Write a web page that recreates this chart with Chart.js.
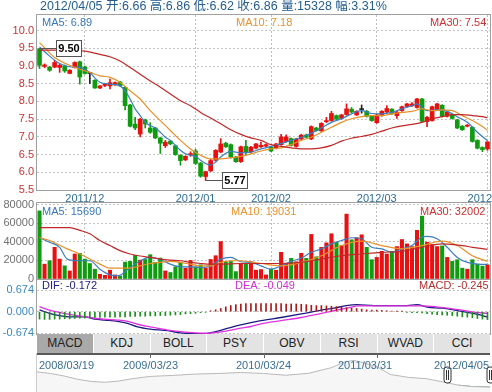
<!DOCTYPE html>
<html>
<head>
<meta charset="utf-8">
<script src="https://cdn.jsdelivr.net/npm/chart.js@4.4.1/dist/chart.umd.min.js"></script>
<style>
  html, body { margin: 0; padding: 0; background: #fff; }
  #wrap { position: relative; width: 492px; height: 392px; overflow: hidden;
    font-family: "Liberation Sans", Arial, "Noto Sans CJK SC", sans-serif; }
  canvas { position: absolute; left: 0; }
  .txt { position: absolute; white-space: nowrap; font-size: 11px; line-height: 12px; }
  #title { left: 40px; top: -1px; font-size: 12.5px; line-height: 14px; color: #245e8e; }
  .tabs { position: absolute; left: 37px; top: 334px; width: 453px; height: 19px; display: flex; }
  .tab { flex: 1; background: #e3e3e3; border-left: 1px solid #fff; text-align: center;
    font-size: 12px; line-height: 19px; color: #222; }
  .tab.on { background: #a9a9a9; border-left: none; }
  .navd { position: absolute; top: 359px; font-size: 11px; line-height: 12px; color: #3a7090; white-space: nowrap; }
</style>
</head>
<body>
<div id="wrap">
  <canvas id="price" width="492" height="204" style="top:0"></canvas>
  <canvas id="vol" width="492" height="92" style="top:195px"></canvas>
  <canvas id="macd" width="492" height="70" style="top:272px"></canvas>
  <canvas id="nav" width="492" height="39" style="top:353px"></canvas>

  <div id="title" class="txt">2012/04/05 开:6.66 高:6.86 低:6.62 收:6.86 量:15328 幅:3.31%</div>

  <div class="txt" style="left:42px;top:15.5px;color:#3878b8">MA5: 6.89</div>
  <div class="txt" style="left:236px;top:15.5px;color:#e6922e">MA10: 7.18</div>
  <div class="txt" style="left:430px;top:15.5px;color:#cc3030">MA30: 7.54</div>

  <div class="txt" style="left:42px;top:204.5px;color:#3878b8">MA5: 15690</div>
  <div class="txt" style="left:231px;top:204.5px;color:#e6922e">MA10: 19031</div>
  <div class="txt" style="left:420px;top:204.5px;color:#cc3030">MA30: 32002</div>

  <div class="txt" style="left:42px;top:278.5px;color:#202080">DIF: -0.172</div>
  <div class="txt" style="left:235px;top:278.5px;color:#d030d0">DEA: -0.049</div>
  <div class="txt" style="left:419px;top:278.5px;color:#b03030">MACD: -0.245</div>

  <div class="tabs">
    <div class="tab on">MACD</div><div class="tab">KDJ</div><div class="tab">BOLL</div><div class="tab">PSY</div>
    <div class="tab">OBV</div><div class="tab">RSI</div><div class="tab">WVAD</div><div class="tab">CCI</div>
  </div>

  <div class="navd" style="left:39px">2008/03/19</div>
  <div class="navd" style="left:123px">2009/03/23</div>
  <div class="navd" style="left:236px">2010/03/24</div>
  <div class="navd" style="left:338px">2011/03/31</div>
  <div class="navd" style="left:434px">2012/04/05</div>
</div>

<script>
// daily candles, 2011/11 .. 2012/04/05
const opens = [9.48,8.99,8.97,8.97,8.96,9.00,8.79,8.96,9.12,8.97,
  8.80,8.60,8.38,8.45,8.44,8.47,8.55,8.40,7.90,7.36,
  7.08,7.48,7.25,7.25,6.97,6.75,6.88,6.75,6.48,6.35,
  6.50,6.60,6.26,5.88,6.04,6.34,6.57,6.82,6.78,6.43,
  6.30,6.73,6.58,6.68,6.72,6.74,6.71,6.68,6.78,6.87,
  6.95,6.73,6.94,7.05,6.94,7.25,7.17,7.43,7.46,7.60,
  7.52,7.63,7.78,7.62,7.77,7.72,7.58,7.40,7.60,7.70,
  7.78,7.60,7.74,7.86,7.88,7.83,8.07,7.43,7.46,7.77,
  7.89,7.58,7.63,7.48,7.30,7.30,7.27,6.90,6.70,6.66];
const highs = [9.50,9.06,8.99,9.16,9.05,9.03,8.90,9.12,9.14,9.00,
  8.82,8.61,8.45,8.50,8.63,8.55,8.57,8.42,7.92,7.55,
  7.52,7.50,7.40,7.27,6.99,6.90,6.90,6.77,6.50,6.47,
  6.58,6.65,6.28,6.03,6.37,6.64,6.95,6.85,6.80,6.45,
  6.74,6.90,6.73,6.82,6.85,6.80,6.73,6.82,7.07,7.06,
  6.97,6.96,7.07,7.08,7.31,7.27,7.40,7.55,7.72,7.62,
  7.64,7.93,7.83,7.74,7.90,7.75,7.60,7.64,7.74,7.88,
  7.80,7.72,7.87,7.95,7.97,8.09,8.09,7.58,7.87,7.95,
  7.91,7.72,7.65,7.50,7.32,7.35,7.29,6.92,6.72,6.86];
const lows = [8.93,8.95,8.85,8.95,8.82,8.82,8.78,8.94,8.49,8.77,
  8.50,8.37,8.36,8.42,8.35,8.45,8.43,7.76,7.28,7.20,
  7.00,7.25,7.10,6.95,6.53,6.70,6.78,6.48,6.20,6.33,
  6.45,6.22,5.86,5.77,6.02,6.32,6.55,6.70,6.40,6.28,
  6.28,6.50,6.55,6.66,6.70,6.72,6.58,6.66,6.76,6.85,
  6.74,6.71,6.92,6.97,6.92,7.16,7.15,7.40,7.44,7.48,
  7.50,7.61,7.68,7.60,7.67,7.56,7.44,7.38,7.58,7.68,
  7.63,7.52,7.72,7.84,7.86,7.81,7.42,7.29,7.44,7.75,
  7.56,7.56,7.50,7.23,7.18,7.28,6.85,6.66,6.58,6.62];
const closes = [9.02,9.03,8.88,9.10,9.02,8.86,8.88,9.10,8.69,8.79,
  8.79,8.38,8.44,8.49,8.53,8.53,8.44,7.88,7.30,7.25,
  7.50,7.36,7.13,6.97,6.82,6.85,6.80,6.50,6.33,6.45,
  6.52,6.25,5.89,6.02,6.33,6.62,6.80,6.72,6.43,6.30,
  6.72,6.58,6.71,6.80,6.76,6.78,6.60,6.80,7.00,7.00,
  6.76,6.94,7.05,6.99,7.29,7.18,7.38,7.46,7.66,7.50,
  7.62,7.79,7.70,7.72,7.77,7.58,7.46,7.62,7.72,7.80,
  7.65,7.70,7.85,7.93,7.93,8.07,7.44,7.55,7.85,7.93,
  7.58,7.70,7.52,7.25,7.20,7.33,6.87,6.68,6.64,6.86];
const volumes = [73500,16000,19700,34200,21500,14200,8700,27000,27700,21500,
  16700,10600,5100,4000,9500,4400,3300,18200,19000,25500,
  20400,21100,26200,17900,22600,8700,7000,13100,17900,11700,
  20000,13100,15300,11700,21100,25100,40400,18600,19000,8000,
  16700,16700,18600,9500,10200,4400,10600,9500,28800,16700,
  22300,18600,27700,22300,48100,24000,34200,39000,48800,39700,
  36100,70000,42300,44500,47700,34200,20800,23300,29900,27000,
  29900,35000,42600,37900,35000,52500,67800,39700,37200,35000,
  35700,23300,19000,20800,11700,10600,20800,16000,13900,15328];

// moving averages: [candle index, value]
const ma5 = [[0,9.54],[2,9.28],[4,9.07],[6,8.98],[8,8.96],[9,8.91],[10,8.82],[11,8.66],[12,8.54],[14,8.49],
  [16,8.44],[17,8.30],[18,8.07],[19,7.79],[20,7.60],[21,7.41],[22,7.32],[23,7.25],[24,7.13],[25,6.99],
  [26,6.90],[27,6.76],[28,6.62],[29,6.52],[30,6.48],[31,6.45],[32,6.34],[33,6.25],[34,6.20],[35,6.29],
  [36,6.43],[37,6.54],[38,6.59],[40,6.55],[42,6.57],[44,6.66],[46,6.73],[50,6.90],[53,7.04],[56,7.25],
  [58,7.41],[60,7.51],[62,7.65],[64,7.74],[66,7.66],[68,7.65],[70,7.69],[72,7.79],[74,7.88],[75,7.93],
  [77,7.74],[79,7.76],[81,7.72],[83,7.57],[85,7.41],[87,7.13],[89,6.89]];
const ma10 = [[0,9.66],[3,9.24],[5.5,9.05],[8,8.91],[10,8.82],[12,8.72],[14,8.68],[16,8.54],[18,8.30],[20,8.07],
  [22,7.74],[24,7.46],[26,7.18],[28,6.90],[30,6.66],[32,6.48],[34,6.38],[36,6.38],[38,6.41],[40,6.45],
  [42,6.52],[44,6.60],[46,6.66],[48,6.69],[50,6.78],[52,6.90],[54,6.99],[56,7.13],[58,7.27],[60,7.41],
  [62,7.51],[64,7.57],[66,7.60],[68,7.60],[70,7.65],[72,7.69],[74,7.72],[76,7.79],[78,7.74],[80,7.76],
  [82,7.74],[84,7.60],[86,7.46],[88,7.29],[89,7.18]];
const ma30 = [[0,9.45],[4,9.45],[8.5,9.43],[12,9.33],[14,9.26],[16,9.14],[18,8.96],[20,8.77],[22,8.58],[24,8.40],
  [26,8.21],[28,8.02],[30,7.88],[32,7.69],[34,7.53],[36,7.37],[38,7.20],[40,7.07],[42,6.97],[44,6.90],
  [46,6.78],[48,6.73],[50,6.69],[52,6.66],[54,6.66],[56,6.69],[58,6.76],[60,6.88],[62,6.96],[64,7.01],
  [66,7.07],[68,7.16],[70,7.25],[72,7.31],[74,7.35],[76,7.41],[78,7.51],[80,7.57],[82,7.63],[84,7.63],
  [86,7.60],[88,7.57],[89,7.54]];
const vma5 = [[0,44500],[2,39700],[4,34200],[5.5,21500],[8,19700],[10,19700],[12,10600],[14,4400],[15.5,3300],[18,12400],
  [20,19700],[22,23300],[24,21100],[26,16000],[28,13100],[30,13100],[32,12400],[34,14200],[36,21500],[38,23300],
  [40,18600],[42,17900],[44,14200],[46,10600],[48,14200],[50,19000],[52,22600],[54,28800],[56,32500],[58,37900],
  [60,41500],[62,44500],[64,43400],[66,34200],[68,32500],[70,28800],[72,32500],[74,36100],[76,45300],[77,46000],
  [79,43400],[81,34200],[83,23300],[85,17900],[87,16000],[89,15690]];
const vma10 = [[0,44500],[2,41500],[5.5,32500],[8,27000],[10,21500],[12,16000],[14,11700],[16,11700],[18,11700],[20,14200],
  [22,16700],[24,17900],[26,19000],[28,17900],[30,16000],[32,14200],[34,14200],[36,17900],[38,19700],[40,19700],
  [44,16700],[48,14200],[52,17900],[56,25100],[60,36100],[64,40800],[68,36100],[72,32500],[76,36100],[80,40800],
  [83,36100],[86,25100],[89,19031]];
const vma30 = [[0,55400],[6,55400],[8,52500],[10,48800],[12,41500],[14,36100],[16,30600],[18,27000],[20,24800],[22,23300],
  [24,21500],[26,20400],[28,19700],[30,17900],[32,16700],[34,16000],[36,16000],[40,16700],[44,16700],[48,16700],
  [52,17900],[56,21500],[60,25100],[64,27000],[68,28800],[72,29900],[76,34200],[80,37900],[84,36100],[86,34200],
  [89,32002]];
const dif = [[0,0.06],[2,-0.05],[4,-0.12],[6,-0.16],[9,-0.16],[11,-0.23],[13,-0.26],[15.5,-0.30],[17.5,-0.36],[19.5,-0.47],
  [22,-0.54],[25.5,-0.59],[28,-0.66],[31,-0.68],[33,-0.68],[35,-0.62],[37.5,-0.51],[40,-0.41],[44,-0.28],[48,-0.18],
  [52,-0.07],[56,0.05],[58.5,0.11],[61,0.19],[63,0.22],[66.5,0.19],[70,0.19],[73,0.19],[75,0.22],[77,0.14],
  [80,0.11],[82.5,0.05],[85,-0.02],[88,-0.12],[89,-0.172]];
const dea = [[0,0.16],[2,0.05],[4.8,-0.05],[7.5,-0.12],[10,-0.18],[12.8,-0.23],[15.5,-0.26],[17.5,-0.30],[19.5,-0.39],[22,-0.47],
  [25.5,-0.57],[28,-0.62],[31,-0.66],[33,-0.67],[35,-0.65],[37.5,-0.59],[40,-0.51],[42,-0.46],[44,-0.38],[48,-0.28],
  [52,-0.18],[56,-0.05],[58.5,0.03],[61,0.11],[63.5,0.18],[66.5,0.18],[70,0.18],[73,0.18],[76,0.18],[78.5,0.16],
  [81,0.11],[84,0.05],[86.5,-0.02],[89,-0.049]];
const macdHist = [-0.23,-0.24,-0.24,-0.23,-0.23,-0.22,-0.22,-0.21,-0.2,-0.2,
  -0.19,-0.18,-0.18,-0.17,-0.17,-0.17,-0.16,-0.16,-0.15,-0.15,
  -0.14,-0.14,-0.13,-0.13,-0.12,-0.12,-0.11,-0.1,-0.09,-0.07,
  -0.06,-0.05,-0.03,-0.02,0.03,0.06,0.10,0.15,0.19,0.22,
  0.24,0.25,0.25,0.25,0.25,0.25,0.25,0.25,0.25,0.24,
  0.24,0.24,0.23,0.22,0.2,0.19,0.19,0.18,0.17,0.16,
  0.14,0.12,0.11,0.1,0.08,0.06,0.05,0.05,0.04,0.03,
  0.02,0.01,0.01,-0.02,-0.03,-0.03,-0.04,-0.06,-0.08,-0.09,
  -0.1,-0.11,-0.12,-0.14,-0.16,-0.17,-0.19,-0.21,-0.23,-0.245];

// axis ticks
const monthIndex = [9, 31, 46, 67, 89];
const monthLabels = ['2011/12', '2012/01', '2012/02', '2012/03', '2012/04'];
const priceTicks = [5.5, 6.0, 6.5, 7.0, 7.5, 8.0, 8.5, 9.0, 9.5, 10.0];
const volTicks = [0, 20000, 40000, 60000, 80000];
const macdTicks = [-0.674, 0, 0.674];

// overview strip (2008/03 .. 2012/04), position 0..100 and price
const navHistory = [[0,10.3],[3,9.5],[6,8.2],[9,6.5],[12,5.4],[15,5.0],[18,5.6],[21,6.8],[25,8.0],[30,8.5],
  [35,9.2],[40,9.5],[45,10.0],[50,9.5],[55,8.6],[60,9.6],[65,12.5],[68,15.5],[70,16.2],[72,15.0],
  [75,13.0],[78,9.0],[82,7.5],[86,6.8],[90,5.0],[93,3.5],[96,2.8],[100,2.5]];
const navTicks = [25, 50, 75];
const navSelect = [90.5, 100];

const N = opens.length;
const RED = '#e81010', GREEN = '#109c10';
const candleColor = opens.map((o, i) => Math.abs(closes[i] - o) < 0.015 ? '#222' : (closes[i] > o ? RED : GREEN));
const volColor = opens.map((o, i) => closes[i] >= o ? RED : GREEN);
const pts = arr => arr.map(p => ({ x: p[0], y: p[1] }));

// outline of each panel
const frame = {
  id: 'frame',
  afterDraw(chart) {
    const a = chart.chartArea, ctx = chart.ctx;
    ctx.save();
    ctx.strokeStyle = '#a0a0a0';
    ctx.lineWidth = 1;
    ctx.strokeRect(a.left - 0.5, a.top - 0.5, a.width + 1, a.height + 1);
    ctx.restore();
  }
};

// boxes for highest / lowest price
const extremes = {
  id: 'extremes',
  afterDatasetsDraw(chart) {
    const x = chart.scales.x, y = chart.scales.y, ctx = chart.ctx;
    const hi = highs.indexOf(Math.max(...highs));
    const lo = lows.indexOf(Math.min(...lows));
    ctx.save();
    [[hi, highs[hi]], [lo, lows[lo]]].forEach(([i, v]) => {
      const px = x.getPixelForValue(i), py = Math.round(y.getPixelForValue(v)) + 0.5;
      const bx = Math.round(px + 16) + 0.5;
      ctx.strokeStyle = '#555';
      ctx.lineWidth = 1;
      ctx.beginPath(); ctx.moveTo(px, py); ctx.lineTo(bx, py); ctx.stroke();
      ctx.fillStyle = '#fff';
      ctx.fillRect(bx, py - 8, 25, 16);
      ctx.strokeRect(bx, py - 8, 25, 16);
      ctx.fillStyle = '#000';
      ctx.font = 'bold 11px "Liberation Sans", Arial';
      ctx.textAlign = 'center'; ctx.textBaseline = 'middle';
      ctx.fillText(v.toFixed(2), bx + 12.5, py + 0.5);
    });
    ctx.restore();
  }
};

function xAxis(labels) {
  return {
    type: 'linear', min: -0.5, max: N - 0.5, offset: false,
    afterBuildTicks: s => { s.ticks = monthIndex.map(v => ({ value: v })); },
    afterFit: s => { s.height = labels ? 14 : 0; s.paddingLeft = 0; s.paddingRight = 0; },
    grid: { color: '#bdbdbd', drawTicks: false, offset: false },
    border: { display: false, dash: [2, 2] },
    ticks: { display: labels, padding: 2, color: '#2f6f95', font: { size: 11 }, maxRotation: 0, autoSkip: false,
      callback: v => monthLabels[monthIndex.indexOf(v)] }
  };
}
function yAxis(min, max, ticks, color, fmt, grid) {
  return {
    min, max,
    afterBuildTicks: s => { s.ticks = ticks.map(v => ({ value: v })); },
    afterFit: s => { s.width = 37; s.paddingTop = 0; s.paddingBottom = 0; },
    grid: { color: grid ? '#c4c4c4' : 'transparent', drawTicks: false },
    border: { display: false, dash: [2, 2] },
    ticks: { padding: 3, color, font: { size: 11 }, callback: fmt }
  };
}
const line = (data, color, w) => ({ type: 'line', data: pts(data), borderColor: color, borderWidth: w || 1.2,
  pointRadius: 0, tension: 0.3, cubicInterpolationMode: 'monotone', fill: false });
const common = { responsive: false, animation: false, devicePixelRatio: 1, events: [],
  plugins: { legend: { display: false }, tooltip: { enabled: false } } };
Chart.defaults.font.family = '"Liberation Sans", Arial, sans-serif';

new Chart(document.getElementById('price'), {
  type: 'bar',
  data: { datasets: [
    line(ma30, '#c02828'), line(ma10, '#e8902a'), line(ma5, '#3a7ec0'),
    { data: opens.map((o, i) => ({ x: i, y: [lows[i], highs[i]] })), backgroundColor: candleColor,
      barThickness: 1, grouped: false },
    { data: opens.map((o, i) => ({ x: i, y: [o, closes[i]] })), backgroundColor: candleColor,
      barThickness: 4, grouped: false, minBarLength: 1 }
  ] },
  options: Object.assign({}, common, {
    layout: { padding: { top: 15, right: 2, left: 0, bottom: 0 } },
    scales: { x: xAxis(true), y: yAxis(5.5, 10.44, priceTicks, '#c83232', v => v.toFixed(1), true) }
  }),
  plugins: [frame, extremes]
});

new Chart(document.getElementById('vol'), {
  type: 'bar',
  data: { datasets: [
    line(vma30, '#c02828'), line(vma10, '#e8902a'), line(vma5, '#3a7ec0'),
    { data: volumes.map((v, i) => ({ x: i, y: v })), backgroundColor: volColor, barThickness: 3.4, grouped: false }
  ] },
  options: Object.assign({}, common, {
    layout: { padding: { top: 8, right: 2, left: 0, bottom: 8 } },
    scales: { x: xAxis(false), y: yAxis(0, 82000, volTicks, '#707070', v => String(v), true) }
  }),
  plugins: [frame]
});

new Chart(document.getElementById('macd'), {
  type: 'bar',
  data: { datasets: [
    { data: macdHist.map((v, i) => ({ x: i, y: v })), backgroundColor: macdHist.map(v => v >= 0 ? '#b01818' : '#18901a'),
      barThickness: 1, grouped: false },
    line(dea, '#e030e0', 1.3), line(dif, '#1c1c80', 1.3)
  ] },
  options: Object.assign({}, common, {
    layout: { padding: { top: 8, right: 2, left: 0, bottom: 8 } },
    scales: { x: Object.assign(xAxis(false), { grid: { display: false } }),
      y: yAxis(-0.693, 0.985, macdTicks, '#3a88bb', v => v.toFixed(3), true) }
  }),
  plugins: [frame]
});

// overview strip with selected range
const navFrame = {
  id: 'navFrame',
  afterDraw(chart) {
    const x = chart.scales.x, a = chart.chartArea, ctx = chart.ctx;
    ctx.save();
    ctx.strokeStyle = '#222'; ctx.lineWidth = 1.5;
    ctx.beginPath(); ctx.moveTo(a.left, a.top + 1); ctx.lineTo(a.right, a.top + 1); ctx.stroke();
    ctx.lineWidth = 1; ctx.strokeStyle = '#666';
    navTicks.forEach(t => {
      const px = Math.round(x.getPixelForValue(t)) + 0.5;
      ctx.beginPath(); ctx.moveTo(px, a.top + 1); ctx.lineTo(px, a.top + 5); ctx.stroke();
    });
    ctx.strokeStyle = '#ccc';
    ctx.beginPath(); ctx.moveTo(a.left - 0.5, a.top); ctx.lineTo(a.left - 0.5, a.bottom); ctx.stroke();
    navSelect.forEach(t => {
      const px = Math.round(x.getPixelForValue(t)) + 0.5;
      ctx.fillStyle = '#fff'; ctx.strokeStyle = '#333';
      ctx.beginPath(); ctx.roundRect(px - 3.5, 14, 7, 16, 3); ctx.fill(); ctx.stroke();
      ctx.beginPath(); ctx.moveTo(px - 1, 17); ctx.lineTo(px - 1, 27); ctx.moveTo(px + 1, 17); ctx.lineTo(px + 1, 27); ctx.stroke();
    });
    ctx.restore();
  }
};
new Chart(document.getElementById('nav'), {
  type: 'line',
  data: { datasets: [
    { data: pts(navHistory), borderColor: '#b8b8b8', borderWidth: 1, pointRadius: 0, fill: 'origin', backgroundColor: '#f6f6f6' },
    { data: pts(navHistory.filter(p => p[0] >= navSelect[0])), borderColor: '#5d8f9c', borderWidth: 1, pointRadius: 0,
      fill: 'origin', backgroundColor: '#b9d6de' }
  ] },
  options: Object.assign({}, common, {
    layout: { padding: { top: 0, right: 2, left: 37, bottom: 0 } },
    scales: { x: { type: 'linear', min: 0, max: 100, display: false }, y: { min: 0, max: 20, display: false } }
  }),
  plugins: [navFrame]
});
</script>
</body>
</html>
